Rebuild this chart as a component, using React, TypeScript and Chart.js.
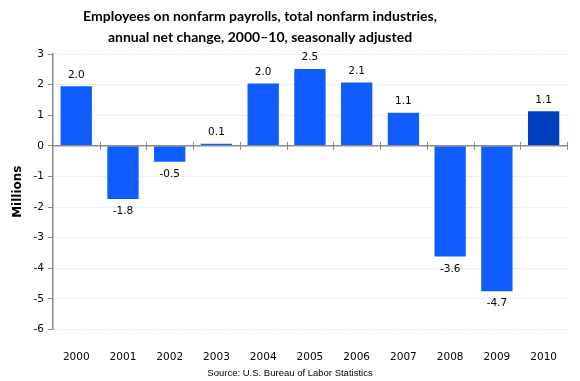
import React, { useEffect, useRef } from "react";
import { Chart, registerables } from "chart.js";

Chart.register(...registerables);

const years = ["2000", "2001", "2002", "2003", "2004", "2005", "2006", "2007", "2008", "2009", "2010"];
const netChange = [1.95, -1.74, -0.52, 0.07, 2.04, 2.51, 2.07, 1.08, -3.62, -4.75, 1.13];
const valueLabels = ["2.0", "-1.8", "-0.5", "0.1", "2.0", "2.5", "2.1", "1.1", "-3.6", "-4.7", "1.1"];
const titleLines = [
  "Employees on nonfarm payrolls, total nonfarm industries,",
  "annual net change, 2000\u201310, seasonally adjusted",
];
const sourceText = "Source: U.S. Bureau of Labor Statistics";
const yAxisTitle = "Millions";

const barColor = "#0f5cff";
const highlightColor = "#003fbf";
const axisGray = "#8c8c8c";

const overlayPlugin = {
  id: "overlay",
  afterDatasetsDraw(chart: any) {
    const { ctx, scales, chartArea } = chart;
    const x = scales.x;
    const y = scales.y;
    const y0 = y.getPixelForValue(0);
    ctx.save();
    ctx.strokeStyle = axisGray;
    ctx.lineWidth = 1.5;
    ctx.beginPath();
    ctx.moveTo(chartArea.left, y0);
    ctx.lineTo(chartArea.right, y0);
    ctx.stroke();
    ctx.lineWidth = 1;
    for (let i = 1; i <= years.length; i++) {
      const px = i < years.length
        ? (x.getPixelForValue(i - 1) + x.getPixelForValue(i)) / 2
        : chartArea.right;
      const xx = Math.round(px) + 0.5;
      ctx.beginPath();
      ctx.moveTo(xx, y0 - 4);
      ctx.lineTo(xx, y0 + 4);
      ctx.stroke();
    }
    ctx.fillStyle = "#000";
    ctx.font = "10.5px 'DejaVu Sans'";
    ctx.textAlign = "center";
    const meta = chart.getDatasetMeta(0);
    meta.data.forEach((bar: any, i: number) => {
      const v = netChange[i];
      if (v >= 0) {
        ctx.textBaseline = "bottom";
        ctx.fillText(valueLabels[i], bar.x, bar.y - 6);
      } else {
        ctx.textBaseline = "top";
        ctx.fillText(valueLabels[i], bar.x, bar.y + 7);
      }
    });
    ctx.font = "bold 14px Lato";
    ctx.textBaseline = "middle";
    ctx.fillText(titleLines[0], 260, 16);
    ctx.fillText(titleLines[1], 260, 37);
    ctx.font = "9.5px 'Liberation Sans'";
    ctx.fillText(sourceText, 290, 373);
    ctx.restore();
  },
};

export default function App() {
  const ref = useRef<HTMLCanvasElement | null>(null);
  useEffect(() => {
    if (!ref.current) return;
    const chart = new Chart(ref.current, {
      type: "bar",
      data: {
        labels: years,
        datasets: [
          {
            data: netChange,
            backgroundColor: years.map((_, i) => (i === years.length - 1 ? highlightColor : barColor)),
            barPercentage: 0.67,
            categoryPercentage: 1,
          },
        ],
      },
      options: {
        animation: false,
        responsive: false,
        maintainAspectRatio: false,
        layout: { padding: { left: 11, right: 13, top: 54, bottom: 3 } },
        plugins: {
          legend: { display: false },
          tooltip: { enabled: false },
          title: { display: false },
        },
        scales: {
          x: {
            grid: { display: false },
            border: { display: false },
            ticks: {
              color: "#000",
              font: { family: "'DejaVu Sans'", size: 10.5 },
              padding: 14,
              maxRotation: 0,
            },
          },
          y: {
            min: -6,
            max: 3,
            ticks: {
              stepSize: 1,
              color: "#000",
              font: { family: "'DejaVu Sans'", size: 10.5 },
              padding: 4,
            },
            grid: {
              color: "#d4d4d4",
              tickColor: axisGray,
              tickLength: 5,
              tickBorderDash: [],
            },
            border: { display: true, color: axisGray, width: 1.5, dash: [1, 2] },
            title: {
              display: true,
              text: yAxisTitle,
              color: "#000",
              font: { family: "'DejaVu Sans'", weight: "bold", size: 12 },
              padding: { top: 0, bottom: 4 },
            },
          },
        },
      },
      plugins: [overlayPlugin],
    });
    return () => chart.destroy();
  }, []);
  return (
    <div style={{ position: "fixed", left: 0, top: 0, width: 580, height: 381, background: "#fff" }}>
      <canvas ref={ref} width={580} height={381} style={{ display: "block" }} />
    </div>
  );
}
